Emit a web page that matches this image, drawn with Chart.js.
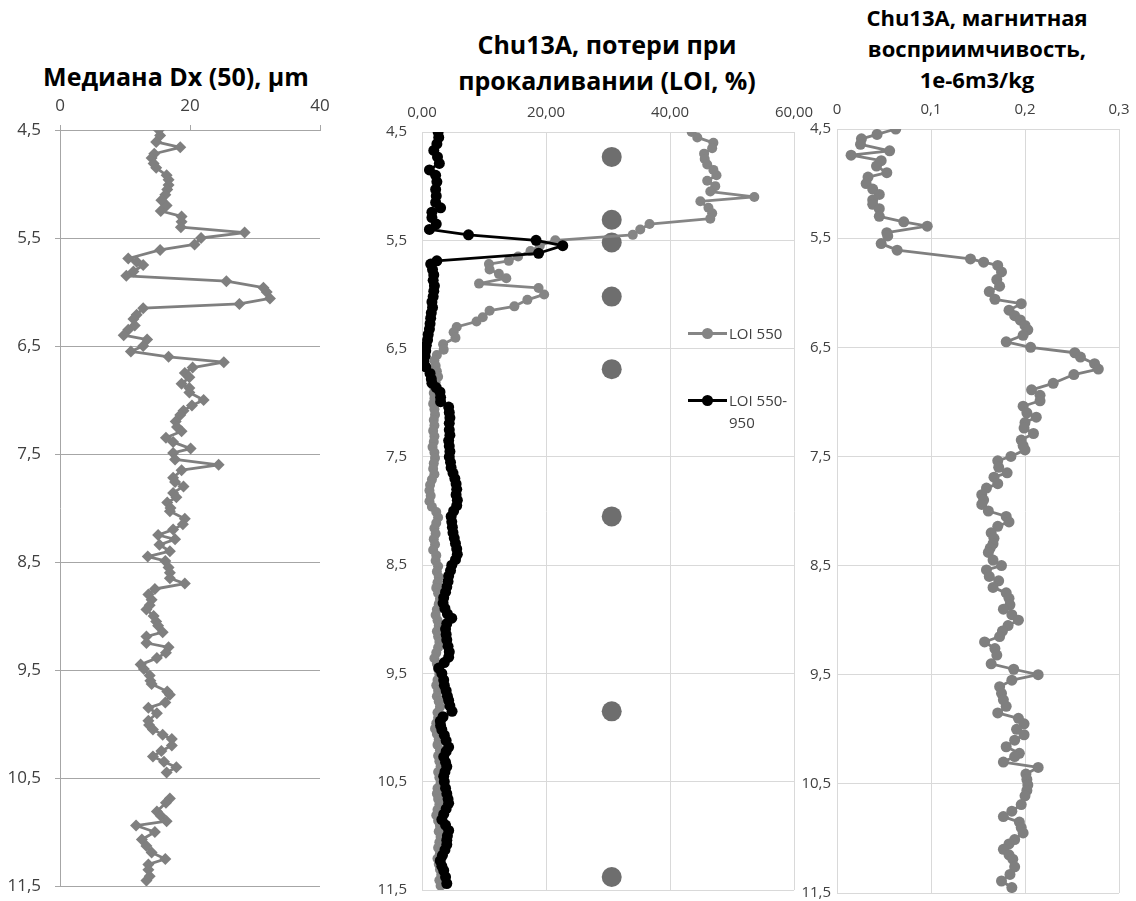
<!DOCTYPE html>
<html>
<head>
<meta charset="utf-8">
<script src="https://cdn.jsdelivr.net/npm/chart.js@4.4.1/dist/chart.umd.min.js"></script>
<style>
  body { margin: 0; background: #fff; }
  #page { position: relative; width: 1136px; height: 901px; overflow: hidden; font-family: 'Open Sans', sans-serif; }
  canvas { position: absolute; }
  .title { position: absolute; font-weight: bold; color: #000; text-align: center; white-space: nowrap; }
  .leg { position: absolute; font-size: 15px; color: #404040; line-height: 22px; }
  .leg .ln { position: absolute; left: 0; width: 39px; height: 3px; }
  .leg .dot { position: absolute; left: 14px; width: 11px; height: 11px; border-radius: 50%; }
  .leg .tx { position: absolute; left: 41px; white-space: nowrap; }
</style>
</head>
<body>
<div id="page">
  <div class="title" style="left:0;width:352px;top:58px;font-size:25px;line-height:36px;">Медиана Dx (50), µm</div>
  <div class="title" style="left:407px;width:400px;top:26px;font-size:25px;line-height:36px;">Chu13A, потери при<br>прокаливании (LOI, %)</div>
  <div class="title" style="left:827px;width:300px;top:2px;font-size:22px;line-height:31px;">Chu13A, магнитная<br>восприимчивость,<br>1e-6m3/kg</div>

  <canvas id="dxChart" width="330" height="811" style="left:0;top:90px;"></canvas>
  <canvas id="loiChart" width="454" height="811" style="left:370px;top:90px;"></canvas>
  <canvas id="msChart" width="356" height="811" style="left:780px;top:90px;"></canvas>

  <div class="leg" style="left:688px;top:322px;">
    <div class="ln" style="top:10px;background:#858585;"></div>
    <div class="dot" style="top:6px;background:#858585;"></div>
    <div class="tx" style="top:0;">LOI 550</div>
  </div>
  <div class="leg" style="left:688px;top:389px;">
    <div class="ln" style="top:10px;background:#000;"></div>
    <div class="dot" style="top:6px;background:#000;"></div>
    <div class="tx" style="top:0;">LOI 550-<br>950</div>
  </div>
</div>
<script>
// depth axis labels shared by all three panels
const depthTicks = [4.5, 5.5, 6.5, 7.5, 8.5, 9.5, 10.5, 11.5];

// median grain size Dx(50), µm
const dxDepth = [4.50, 4.55, 4.61, 4.66, 4.72, 4.76, 4.81, 4.85, 4.92, 4.96, 5.01, 5.05, 5.10, 5.15, 5.20, 5.25, 5.30, 5.35, 5.40, 5.45,
  5.50, 5.56, 5.61, 5.69, 5.72, 5.75, 5.81, 5.85, 5.90, 5.96, 6.00, 6.06, 6.11, 6.15, 6.21, 6.25, 6.31, 6.35, 6.40, 6.44,
  6.50, 6.55, 6.60, 6.65, 6.70, 6.75, 6.79, 6.85, 6.89, 6.93, 7.00, 7.05, 7.10, 7.14, 7.20, 7.25, 7.29, 7.35, 7.39, 7.45,
  7.49, 7.55, 7.60, 7.65, 7.72, 7.76, 7.80, 7.86, 7.90, 7.95, 8.00, 8.03, 8.10, 8.15, 8.20, 8.25, 8.29, 8.34, 8.40, 8.45,
  8.49, 8.55, 8.60, 8.65, 8.70, 8.75, 8.80, 8.85, 8.90, 8.94, 9.00, 9.05, 9.09, 9.15, 9.19, 9.25, 9.29, 9.34, 9.39, 9.45,
  9.49, 9.55, 9.60, 9.63, 9.70, 9.73, 9.80, 9.85, 9.90, 9.97, 10.01, 10.05, 10.10, 10.14, 10.20, 10.25, 10.30, 10.35, 10.40, 10.45,
  10.57, 10.69, 10.73, 10.81, 10.85, 10.90, 10.94, 11.00, 11.07, 11.13, 11.19, 11.25, 11.30, 11.35, 11.41, 11.45];
const dxValue = [15.2, 15.4, 14.8, 18.5, 14.5, 14.1, 14.4, 14.8, 16.4, 16.7, 16.7, 16.5, 16.2, 15.6, 16.4, 15.5, 18.7, 18.7, 18.6, 28.4,
  21.7, 20.7, 15.4, 10.5, 11.8, 12.8, 11.3, 10.2, 25.6, 31.3, 31.8, 32.3, 27.6, 12.8, 11.8, 11.3, 11.5, 10.5, 9.8, 13.4,
  12.8, 10.9, 16.7, 25.2, 20.4, 19.2, 19.9, 18.7, 19.9, 19.9, 22.1, 20.3, 19.0, 18.5, 17.8, 18.0, 18.7, 16.3, 17.4, 20.1,
  17.4, 17.7, 24.4, 18.7, 17.4, 17.7, 19.0, 17.4, 17.9, 16.5, 17.0, 16.9, 19.2, 18.9, 17.4, 15.1, 17.7, 15.3, 16.9, 13.5,
  16.2, 16.7, 16.9, 16.9, 19.2, 14.6, 13.6, 14.1, 13.8, 13.3, 14.4, 14.8, 15.1, 15.8, 13.3, 13.3, 16.7, 16.3, 14.9, 12.4,
  12.9, 13.8, 13.9, 14.1, 16.5, 16.9, 16.2, 13.6, 14.9, 13.6, 13.7, 14.3, 15.8, 17.2, 17.2, 15.6, 14.3, 16.0, 17.9, 16.4,
  null, 16.9, 16.3, 14.9, 15.5, 16.4, 11.7, 14.6, 12.6, 13.3, 14.1, 16.2, 13.6, 13.6, 13.8, 13.3];

// LOI 550, %
const loi550Depth = [4.50, 4.55, 4.60, 4.65, 4.70, 4.75, 4.80, 4.85, 4.90, 4.95, 5.00, 5.05, 5.10, 5.14, 5.20, 5.25, 5.30, 5.35, 5.40, 5.45,
  5.50, 5.55, 5.60, 5.65, 5.69, 5.72, 5.77, 5.81, 5.85, 5.90, 5.94, 6.00, 6.05, 6.11, 6.15, 6.21, 6.25, 6.30, 6.35, 6.40,
  6.46, 6.51, 6.56, 6.61, 6.66, 6.71, 6.76, 6.81, 6.86, 6.91, 6.96, 7.01, 7.06, 7.11, 7.16, 7.21, 7.26, 7.31, 7.36, 7.41,
  7.46, 7.51, 7.56, 7.61, 7.66, 7.71, 7.76, 7.81, 7.86, 7.91, 7.96, 8.01, 8.06, 8.11, 8.16, 8.21, 8.26, 8.31, 8.36, 8.41,
  8.46, 8.51, 8.56, 8.61, 8.66, 8.71, 8.76, 8.81, 8.86, 8.91, 8.96, 9.01, 9.06, 9.11, 9.16, 9.21, 9.26, 9.31, 9.36, 9.41,
  9.46, 9.51, 9.56, 9.61, 9.66, 9.71, 9.76, 9.81, 9.86, 9.91, 9.96, 10.01, 10.06, 10.11, 10.16, 10.21, 10.26, 10.31, 10.36, 10.41,
  10.46, 10.51, 10.56, 10.61, 10.66, 10.71, 10.76, 10.81, 10.86, 10.91, 10.96, 11.01, 11.06, 11.11, 11.16, 11.21, 11.26, 11.31, 11.36, 11.41, 11.46];
const loi550Value = [43.5, 44.4, 47.0, 46.8, 45.5, 45.6, 46.0, 47.0, 47.5, 46.0, 47.3, 46.5, 53.6, 44.9, 46.2, 46.8, 46.5, 36.7, 35.2, 34.0,
  21.5, 19.0, 17.5, 15.5, 14.0, 10.8, 10.9, 12.4, 13.6, 9.2, 18.8, 19.7, 17.0, 14.9, 10.9, 9.8, 8.8, 5.6, 5.1, 5.4,
  3.4, 3.5, 2.4, 2.0, 2.2, 2.4, 2.6, 2.2, 2.0, 1.9, 2.0, 1.8, 2.0, 2.1, 1.9, 2.0, 1.8, 2.0, 1.9, 1.7,
  2.0, 2.1, 1.9, 1.8, 2.0, 1.6, 1.3, 1.2, 1.4, 1.2, 1.6, 2.3, 2.6, 2.3, 2.0, 2.2, 1.9, 2.1, 1.8, 2.3,
  2.2, 2.6, 2.4, 2.7, 2.5, 2.3, 2.6, 2.9, 2.7, 2.4, 2.2, 2.5, 2.7, 2.4, 2.6, 2.8, 2.6, 2.3, 2.0, 2.4,
  2.6, 2.8, 2.5, 2.3, 2.6, 2.4, 2.7, 2.9, 2.5, 2.6, 2.3, 2.1, 2.4, 2.7, 2.5, 2.9, 2.6, 2.8, 3.0, 2.6,
  2.8, 3.0, 2.5, 2.4, 2.6, 2.8, 2.5, 2.3, 2.6, 2.9, 2.7, 3.0, 2.8, 2.6, 2.9, 2.5, 2.7, 2.9, 3.1, 2.8, 3.0];

// LOI 550-950, %
const loi950Depth = [4.50, 4.55, 4.61, 4.67, 4.73, 4.79, 4.85, 4.90, 4.96, 5.03, 5.09, 5.15, 5.20, 5.24, 5.29, 5.35, 5.40, 5.45, 5.50, 5.55,
  5.62, 5.69, 5.72, 5.77, 5.82, 5.87, 5.92, 5.97, 6.02, 6.07, 6.12, 6.17, 6.22, 6.27, 6.32, 6.37, 6.42, 6.47, 6.52, 6.57,
  6.62, 6.67, 6.73, 6.78, 6.82, 6.86, 6.90, 6.95, 6.99, 7.04, 7.09, 7.14, 7.19, 7.25, 7.30, 7.35, 7.40, 7.45, 7.50, 7.55,
  7.60, 7.65, 7.70, 7.75, 7.80, 7.85, 7.90, 7.95, 8.00, 8.05, 8.10, 8.15, 8.20, 8.25, 8.30, 8.35, 8.40, 8.45, 8.50, 8.55,
  8.60, 8.65, 8.70, 8.75, 8.80, 8.85, 8.90, 8.95, 8.99, 9.04, 9.09, 9.14, 9.19, 9.25, 9.30, 9.35, 9.40, 9.45, 9.50, 9.56,
  9.61, 9.66, 9.71, 9.75, 9.80, 9.85, 9.90, 9.94, 9.98, 10.02, 10.07, 10.12, 10.18, 10.22, 10.27, 10.32, 10.36, 10.41, 10.45, 10.50,
  10.56, 10.61, 10.66, 10.70, 10.75, 10.80, 10.85, 10.90, 10.95, 11.00, 11.04, 11.08, 11.13, 11.18, 11.23, 11.28, 11.32, 11.38, 11.44];
const loi950Value = [2.6, 2.7, 2.4, 1.9, 2.5, 2.8, 1.2, 2.2, 2.4, 2.2, 2.3, 2.2, 3.0, 1.6, 1.6, 2.3, 1.2, 7.5, 18.4, 22.7,
  18.8, 2.4, 1.4, 1.7, 1.9, 1.8, 2.0, 1.9, 1.8, 1.6, 1.7, 1.5, 1.4, 1.3, 1.2, 1.0, 0.9, 0.7, 0.6, 0.5,
  0.3, 0.6, 1.3, 1.5, 1.6, 2.3, 2.9, 3.0, 3.0, 4.3, 4.4, 4.5, 4.4, 4.4, 4.5, 4.3, 4.4, 4.5, 4.4, 4.6,
  4.7, 5.0, 5.3, 5.5, 5.6, 5.5, 5.7, 5.6, 5.1, 4.7, 4.8, 4.9, 5.0, 5.2, 5.4, 5.6, 5.7, 5.4, 4.8, 4.6,
  4.3, 4.2, 4.0, 3.8, 3.5, 3.4, 3.7, 4.1, 4.8, 4.0, 3.8, 3.9, 4.0, 4.2, 4.4, 4.3, 3.6, 2.7, 3.2, 3.5,
  3.6, 3.9, 4.1, 4.3, 4.5, 4.85, 3.4, 2.95, 3.0, 3.2, 3.6, 3.9, 4.3, 3.9, 3.5, 3.8, 4.0, 3.7, 3.5, 3.6,
  3.8, 4.0, 4.2, 4.3, 3.9, 3.5, 3.2, 3.8, 4.3, 4.1, 4.0, 4.0, 3.7, 3.3, 2.95, 3.2, 3.5, 3.8, 4.0];

// sampled levels (large markers)
const sampleDepth = [4.73, 5.31, 5.52, 6.02, 6.69, 8.05, 9.85, 11.38];
const sampleValue = [30.6, 30.6, 30.6, 30.6, 30.6, 30.6, 30.6, 30.6];

// magnetic susceptibility, 1e-6 m3/kg
const msDepth = [4.50, 4.55, 4.59, 4.64, 4.70, 4.74, 4.79, 4.84, 4.90, 4.94, 5.00, 5.05, 5.10, 5.15, 5.19, 5.23, 5.30, 5.35, 5.39, 5.45,
  5.48, 5.55, 5.61, 5.69, 5.72, 5.75, 5.81, 5.88, 5.94, 5.99, 6.06, 6.10, 6.16, 6.21, 6.25, 6.30, 6.34, 6.39, 6.45, 6.50,
  6.55, 6.59, 6.65, 6.70, 6.75, 6.83, 6.89, 6.94, 6.99, 7.04, 7.10, 7.14, 7.19, 7.24, 7.29, 7.35, 7.40, 7.44, 7.50, 7.54,
  7.60, 7.65, 7.69, 7.75, 7.79, 7.85, 7.90, 7.94, 8.00, 8.05, 8.10, 8.14, 8.20, 8.25, 8.30, 8.34, 8.38, 8.45, 8.50, 8.54,
  8.60, 8.64, 8.70, 8.75, 8.80, 8.86, 8.90, 8.95, 9.00, 9.05, 9.10, 9.15, 9.20, 9.26, 9.32, 9.40, 9.45, 9.50, 9.55, 9.61,
  9.67, 9.73, 9.79, 9.85, 9.90, 9.95, 10.00, 10.05, 10.10, 10.16, 10.22, 10.25, 10.30, 10.35, 10.41, 10.46, 10.51, 10.56, 10.61, 10.69,
  10.75, 10.80, 10.85, 10.90, 10.95, 11.01, 11.05, 11.10, 11.15, 11.19, 11.26, 11.33, 11.39, 11.45];
const msValue = [0.0625, 0.0426, 0.026, 0.025, 0.056, 0.015, 0.047, 0.042, 0.053, 0.033, 0.031, 0.038, 0.045, 0.038, 0.038, 0.045, 0.045, 0.071, 0.096, 0.053,
  0.054, 0.047, 0.064, 0.142, 0.156, 0.171, 0.175, 0.170, 0.173, 0.162, 0.168, 0.196, 0.183, 0.189, 0.195, 0.200, 0.203, 0.198, 0.180, 0.206,
  0.253, 0.259, 0.274, 0.278, 0.252, 0.230, 0.207, 0.216, 0.216, 0.198, 0.202, 0.212, 0.200, 0.199, 0.209, 0.196, 0.198, 0.200, 0.185, 0.171,
  0.172, 0.181, 0.167, 0.171, 0.159, 0.154, 0.156, 0.154, 0.161, 0.180, 0.183, 0.171, 0.164, 0.167, 0.166, 0.163, 0.161, 0.166, 0.175, 0.159,
  0.162, 0.172, 0.166, 0.180, 0.183, 0.184, 0.177, 0.186, 0.193, 0.182, 0.176, 0.173, 0.157, 0.168, 0.170, 0.164, 0.188, 0.214, 0.186, 0.173,
  0.175, 0.177, 0.180, 0.171, 0.193, 0.199, 0.191, 0.199, 0.189, 0.180, 0.194, 0.189, 0.177, 0.214, 0.201, 0.202, 0.203, 0.202, 0.200, 0.196,
  0.186, 0.177, 0.194, 0.196, 0.198, 0.189, 0.183, 0.177, 0.183, 0.187, 0.189, 0.184, 0.175, 0.186];

const loiTicks = [0, 20, 40, 60];
const msTicks = [0, 0.1, 0.2, 0.3];

Chart.defaults.font.family = "'Open Sans', sans-serif";
Chart.defaults.color = '#404040';
Chart.defaults.elements.line.borderJoinStyle = 'round';

const toPoints = (depths, values) => depths.map((d, i) => ({ x: values[i], y: d }));
const commaNum = (v, digits) => v.toFixed(digits).replace('.', ',');

function depthAxis(labelSize, width, gridColor, tickLen, pad) {
    return {
        type: 'linear',
        reverse: true,
        min: 4.5,
        max: 11.5,
        afterBuildTicks: axis => { axis.ticks = depthTicks.map(v => ({ value: v })); },
        // fixed width, and no extra label padding so the plot area lands where we want
        afterFit: axis => { axis.width = width; axis.paddingTop = 0; axis.paddingBottom = 0; },
        ticks: { font: { size: labelSize }, padding: pad, callback: v => commaNum(v, 1) },
        grid: { color: gridColor, lineWidth: 1, tickLength: tickLen, drawTicks: tickLen > 0 },
        border: { color: gridColor }
    };
}

function topAxis(min, max, height, extra) {
    return Object.assign({
        type: 'linear',
        position: 'top',
        min,
        max,
        afterFit: axis => { axis.height = height; axis.paddingLeft = 0; axis.paddingRight = 0; }
    }, extra);
}

const commonOpts = {
    responsive: false,
    animation: false,
    events: [],
    plugins: { legend: { display: false }, tooltip: { enabled: false } }
};

// left panel: Dx(50)
new Chart(document.getElementById('dxChart'), {
    type: 'scatter',
    data: {
        datasets: [{
            data: toPoints(dxDepth, dxValue),
            showLine: true,
            spanGaps: false,
            borderColor: '#7f7f7f',
            borderWidth: 2.8,
            pointStyle: 'rectRot',
            pointRadius: 6,
            pointBackgroundColor: '#7f7f7f',
            pointBorderWidth: 0
        }]
    },
    options: {
        ...commonOpts,
        layout: { padding: { right: 10, bottom: 15 } },
        scales: {
            x: topAxis(0, 40, 40, {
                ticks: { stepSize: 20, font: { size: 17 }, padding: 9 },
                grid: { drawOnChartArea: false, tickLength: 5, color: '#a6a6a6' },
                border: { color: '#a6a6a6' }
            }),
            y: depthAxis(17, 60, '#a6a6a6', 5, 14)
        }
    }
});

// middle panel: LOI
new Chart(document.getElementById('loiChart'), {
    type: 'scatter',
    data: {
        datasets: [
            {
                label: 'LOI 550-950',
                data: toPoints(loi950Depth, loi950Value),
                showLine: true,
                order: 0,
                borderColor: '#000',
                borderWidth: 2.8,
                pointRadius: 5.5,
                pointBackgroundColor: '#000',
                pointBorderWidth: 0
            },
            {
                label: 'LOI 550',
                data: toPoints(loi550Depth, loi550Value),
                showLine: true,
                order: 1,
                borderColor: '#858585',
                borderWidth: 2.8,
                pointRadius: 5,
                pointBackgroundColor: '#858585',
                pointBorderWidth: 0
            },
            {
                label: 'samples',
                data: toPoints(sampleDepth, sampleValue),
                showLine: false,
                order: 2,
                pointRadius: 10,
                pointBackgroundColor: '#6e6e6e',
                pointBorderWidth: 0
            }
        ]
    },
    options: {
        ...commonOpts,
        layout: { padding: { right: 30, bottom: 11 } },
        scales: {
            x: topAxis(0, 60, 42, {
                afterBuildTicks: axis => { axis.ticks = loiTicks.map(v => ({ value: v })); },
                ticks: { font: { size: 15 }, padding: 10, callback: v => commaNum(v, 2) },
                grid: { color: '#d9d9d9', drawTicks: false },
                border: { color: '#d9d9d9' }
            }),
            y: depthAxis(15, 52, '#d9d9d9', 0, 15)
        }
    }
});

// right panel: magnetic susceptibility
new Chart(document.getElementById('msChart'), {
    type: 'scatter',
    data: {
        datasets: [{
            data: toPoints(msDepth, msValue),
            showLine: true,
            borderColor: '#7f7f7f',
            borderWidth: 2.8,
            pointRadius: 5.5,
            pointBackgroundColor: '#7f7f7f',
            pointBorderWidth: 0
        }]
    },
    options: {
        ...commonOpts,
        layout: { padding: { right: 17, bottom: 8 } },
        scales: {
            x: topAxis(0, 0.3, 39, {
                afterBuildTicks: axis => { axis.ticks = msTicks.map(v => ({ value: v })); },
                ticks: { font: { size: 15 }, padding: 10, callback: v => v === 0 ? '0' : commaNum(v, 1) },
                grid: { color: '#d9d9d9', drawTicks: false },
                border: { color: '#d9d9d9' }
            }),
            y: depthAxis(15, 57, '#d9d9d9', 0, 6)
        }
    }
});
</script>
</body>
</html>
